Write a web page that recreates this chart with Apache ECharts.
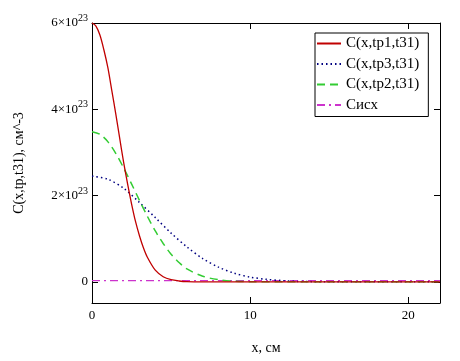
<!DOCTYPE html>
<html>
<head>
<meta charset="utf-8">
<script src="https://cdn.jsdelivr.net/npm/echarts@6/dist/echarts.min.js"></script>
<style>html,body{margin:0;padding:0;background:#fff;}#c{width:460px;height:361px;}</style>
</head>
<body>
<div id="c"></div>
<script>
// Values in units of 1e23 cm^-3, x in cm
const seriesNames = ['C(x,tp1,t31)', 'C(x,tp3,t31)', 'C(x,tp2,t31)', 'Cисх'];
const xTp1 = [0,0.25,0.5,0.75,1,1.25,1.5,1.75,2,2.25,2.5,2.75,3,3.25,3.5,4,4.5,5,5.5,6,7,8,10,14,18,22];
const yTp1 = [6.0,5.93,5.72,5.38,4.97,4.44,3.90,3.33,2.77,2.27,1.81,1.40,1.07,0.79,0.57,0.27,0.12,0.05,0.02,0.005,0,0,0,0,0,0];
const xTp3 = [0,1,2,3,4,5,6,7,8,9,10,11,12,13,14,16,18,22];
const yTp3 = [2.45,2.38,2.17,1.84,1.49,1.13,0.81,0.54,0.34,0.20,0.11,0.06,0.03,0.01,0.005,0,0,0];
const xTp2 = [0,0.5,1,1.5,2,2.5,3,3.5,4,4.5,5,5.5,6,7,8,9,10,12,16,22];
const yTp2 = [3.48,3.42,3.25,2.98,2.64,2.27,1.89,1.52,1.18,0.89,0.64,0.45,0.30,0.13,0.05,0.015,0.004,0,0,0];
const xIsx = [0,22];
const yIsx = [0.03,0.03];
const xTicks = [0,10,20];
const yTicks = [0,2,4,6];

const zip = (xs, ys) => xs.map((x, i) => [x, ys[i]]);
const font = 'Liberation Serif';

const chart = echarts.init(document.getElementById('c'));
const yLabelFmt = v => v === 0 ? '{m|0}' : '{m|' + v + '×10}{s|23}';
const axLine = {show: true, onZero: false, lineStyle: {color: '#000', width: 1}};
chart.setOption({
  animation: false,
  backgroundColor: '#fff',
  grid: {left: 92, top: 23, right: 20, bottom: 58},
  legend: {
    orient: 'vertical', left: 315, top: 33,
    padding: [3, 9, 4, 1], itemGap: 5.5, itemWidth: 24, itemHeight: 14,
    backgroundColor: '#fff', borderColor: '#000', borderWidth: 1,
    itemStyle: {color: 'transparent', borderColor: 'transparent', borderWidth: 0},
    textStyle: {fontFamily: font, fontSize: 15, color: '#000'},
    data: seriesNames
  },
  xAxis: [{
    type: 'value', min: 0, max: 22, position: 'bottom',
    axisLine: axLine,
    axisTick: {inside: true, length: 6, customValues: xTicks, lineStyle: {color: '#000'}},
    axisLabel: {customValues: xTicks, color: '#000', fontFamily: font, fontSize: 13, margin: 6},
    splitLine: {show: false},
    name: 'x, см', nameLocation: 'middle', nameGap: 38,
    nameTextStyle: {fontFamily: font, fontSize: 14, color: '#000'}
  }, {
    type: 'value', min: 0, max: 22, position: 'top',
    axisLine: axLine,
    axisTick: {inside: true, length: 6, customValues: xTicks, lineStyle: {color: '#000'}},
    axisLabel: {show: false}, splitLine: {show: false}
  }],
  yAxis: [{
    type: 'value', min: -0.49, max: 6, position: 'left',
    axisLine: axLine,
    axisTick: {inside: true, length: 6, customValues: yTicks, lineStyle: {color: '#000'}},
    axisLabel: {
      customValues: yTicks, formatter: yLabelFmt, margin: 4,
      rich: {
        m: {fontFamily: font, fontSize: 13, color: '#000'},
        s: {fontFamily: font, fontSize: 10, color: '#000', padding: [0, 0, 9, 0]}
      }
    },
    splitLine: {show: false},
    name: 'C(x,tp,t31), см^-3', nameLocation: 'middle', nameGap: 66, nameRotate: 90,
    nameTextStyle: {fontFamily: font, fontSize: 14, color: '#000'}
  }, {
    type: 'value', min: -0.49, max: 6, position: 'right',
    axisLine: axLine,
    axisTick: {inside: true, length: 6, customValues: yTicks, lineStyle: {color: '#000'}},
    axisLabel: {show: false}, splitLine: {show: false}
  }],
  series: [
    {name: seriesNames[0], type: 'line', smooth: 0.3, symbol: 'none', data: zip(xTp1, yTp1),
     lineStyle: {color: '#c00000', width: 1.3}, itemStyle: {color: '#c00000'}, z: 4},
    {name: seriesNames[1], type: 'line', smooth: 0.3, symbol: 'none', data: zip(xTp3, yTp3),
     lineStyle: {color: '#000080', width: 1.5, type: [1.5, 3]}, itemStyle: {color: '#000080'}, z: 3},
    {name: seriesNames[2], type: 'line', smooth: 0.3, symbol: 'none', data: zip(xTp2, yTp2),
     lineStyle: {color: '#33cc33', width: 1.5, type: [8, 5]}, itemStyle: {color: '#33cc33'}, z: 3},
    {name: seriesNames[3], type: 'line', symbol: 'none', data: zip(xIsx, yIsx),
     lineStyle: {color: '#cc33cc', width: 1.2, type: [8, 4, 2, 4]}, itemStyle: {color: '#cc33cc'}, z: 2}
  ]
});
</script>
</body>
</html>
